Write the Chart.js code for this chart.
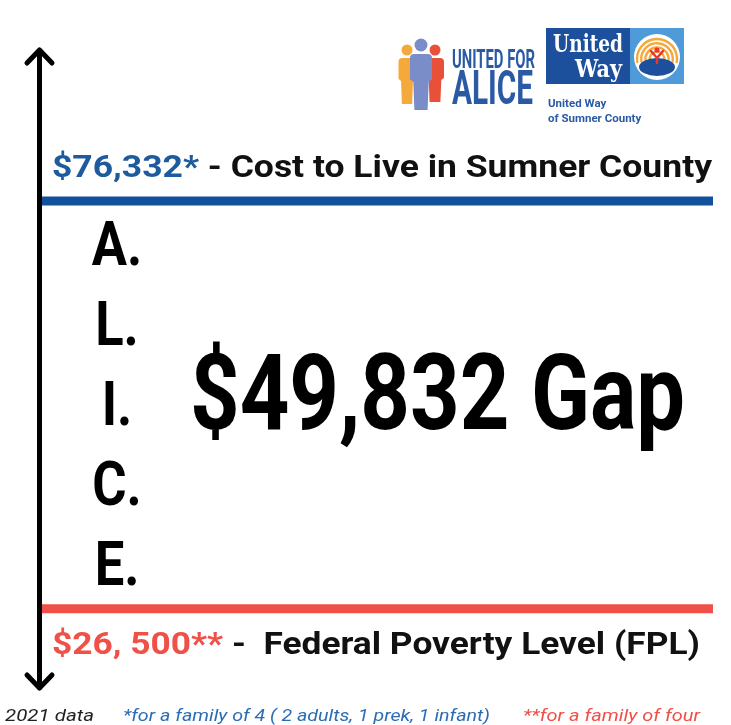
<!DOCTYPE html>
<html lang="en">
<head>
  <meta charset="UTF-8" />
  <title>ALICE - Sumner County</title>
  <script src="https://cdn.jsdelivr.net/npm/chart.js"></script>
  <style>
    body {
      margin: 0;
      background: #fff;
    }
    #wrap {
      width: 731px;
      height: 725px;
    }
  </style>
</head>
<body>
  <div id="wrap"><canvas id="aliceChart" width="731" height="725"></canvas></div>

  <script>
    // income levels (family of four, 2021)
    const levelValues = [76332, 26500];
    const valueLabels = ['$76,332*', '$26, 500**'];
    const levelNames = [' - Cost to Live in Sumner County', ' -  Federal Poverty Level (FPL)'];
    const gapLabel = '$49,832 Gap';
    const acronym = ['A.', 'L.', 'I.', 'C.', 'E.'];
    const footnotes = ['2021 data', '*for a family of 4 ( 2 adults, 1 prek, 1 infant)', '**for a family of four'];

    const BLUE = '#11519b';
    const BLUE_TEXT = '#1d5a9e';
    const RED = '#ef5048';

    // draw text squeezed/stretched to a given width
    function fitText(ctx, parts, x, y, width, font) {
      ctx.font = font;
      const total = parts.reduce((s, p) => s + ctx.measureText(p[0]).width, 0);
      ctx.save();
      ctx.translate(x, y);
      ctx.scale(width / total, 1);
      let cx = 0;
      parts.forEach(p => {
        ctx.fillStyle = p[1];
        ctx.fillText(p[0], cx, 0);
        cx += ctx.measureText(p[0]).width;
      });
      ctx.restore();
    }

    function person(ctx, cx, headY, r, top, bottom, hw, color) {
      ctx.fillStyle = color;
      ctx.beginPath();
      ctx.arc(cx, headY, r, 0, Math.PI * 2);
      ctx.fill();
      ctx.beginPath();
      ctx.moveTo(cx - hw, top + 4);
      ctx.quadraticCurveTo(cx - hw, top, cx - hw + 4, top);
      ctx.lineTo(cx + hw - 4, top);
      ctx.quadraticCurveTo(cx + hw, top, cx + hw, top + 4);
      ctx.lineTo(cx + hw, top + (bottom - top) * 0.45);
      ctx.lineTo(cx + hw * 0.7, top + (bottom - top) * 0.5);
      ctx.lineTo(cx + hw * 0.6, bottom);
      ctx.lineTo(cx - hw * 0.6, bottom);
      ctx.lineTo(cx - hw * 0.7, top + (bottom - top) * 0.5);
      ctx.lineTo(cx - hw, top + (bottom - top) * 0.45);
      ctx.closePath();
      ctx.fill();
    }

    function drawLogos(ctx) {
      // United for ALICE
      person(ctx, 407, 50, 5.5, 58, 104, 8.5, '#f5a93b');
      person(ctx, 435, 50, 5.5, 58, 102, 9, '#e8503a');
      person(ctx, 421, 45, 6.5, 54, 110, 11, '#7b8dc9');
      ctx.textBaseline = 'alphabetic';
      fitText(ctx, [['UNITED FOR', '#2b5aa5']], 452, 68, 83, 'bold 25px Roboto');
      fitText(ctx, [['ALICE', '#2b5aa5']], 452, 104, 81, 'bold 48px Roboto');

      // United Way box
      ctx.fillStyle = '#1c4f9c';
      ctx.fillRect(546, 28, 84, 56);
      ctx.fillStyle = '#4f9ad8';
      ctx.fillRect(630, 28, 54, 56);
      fitText(ctx, [['United', '#fff']], 553, 52, 70, 'bold 24px "DejaVu Serif"');
      fitText(ctx, [['Way', '#fff']], 575, 77, 47, 'bold 24px "DejaVu Serif"');

      // emblem
      const ex = 657, ey = 57;
      ctx.fillStyle = '#fff';
      ctx.beginPath();
      ctx.arc(ex, ey, 23, 0, Math.PI * 2);
      ctx.fill();
      ctx.lineWidth = 2.4;
      ctx.strokeStyle = '#f5a93b';
      for (let i = 0; i < 4; i++) {
        ctx.beginPath();
        ctx.arc(ex, ey + 2, 20 - i * 4.2, Math.PI * 0.95, Math.PI * 2.05);
        ctx.stroke();
      }
      ctx.fillStyle = '#1c4f9c';
      ctx.beginPath();
      ctx.ellipse(ex, ey + 10, 18, 9, 0, 0, Math.PI * 2);
      ctx.fill();
      ctx.strokeStyle = '#e8352e';
      ctx.lineWidth = 2.5;
      ctx.beginPath();
      ctx.moveTo(ex - 6, ey - 6);
      ctx.lineTo(ex, ey + 1);
      ctx.lineTo(ex + 6, ey - 6);
      ctx.moveTo(ex, ey + 1);
      ctx.lineTo(ex, ey + 6);
      ctx.stroke();
      ctx.fillStyle = '#e8352e';
      ctx.beginPath();
      ctx.arc(ex, ey - 7, 2.6, 0, Math.PI * 2);
      ctx.fill();

      ctx.fillStyle = '#2b5aa5';
      ctx.font = 'bold 11.5px Roboto';
      ctx.fillText('United Way', 548, 107);
      ctx.fillText('of Sumner County', 548, 122);
    }

    const infoPlugin = {
      id: 'aliceInfo',
      afterDraw(chart) {
        const ctx = chart.ctx;
        const y = chart.scales.y;
        const topY = y.getPixelForValue(levelValues[0]);
        const botY = y.getPixelForValue(levelValues[1]);
        ctx.save();

        // double arrow
        ctx.strokeStyle = '#000';
        ctx.lineWidth = 5;
        ctx.lineCap = 'round';
        ctx.lineJoin = 'round';
        ctx.beginPath();
        ctx.moveTo(39.5, 50);
        ctx.lineTo(39.5, 688);
        ctx.moveTo(27, 63);
        ctx.lineTo(39.5, 50);
        ctx.lineTo(52, 63);
        ctx.moveTo(27, 675);
        ctx.lineTo(39.5, 688);
        ctx.lineTo(52, 675);
        ctx.stroke();

        ctx.textBaseline = 'alphabetic';
        fitText(ctx, [[valueLabels[0], BLUE_TEXT], [levelNames[0], '#111']], 52, topY - 24, 660, 'bold 31px Roboto');
        fitText(ctx, [[valueLabels[1], RED], [levelNames[1], '#111']], 52, botY + 45, 648, 'bold 32px Roboto');

        // A.L.I.C.E.
        ctx.font = 'bold 61px Roboto';
        ctx.fillStyle = '#000';
        acronym.forEach((t, i) => {
          const w = ctx.measureText(t).width;
          ctx.save();
          ctx.translate(117, topY + 64 + i * 80);
          ctx.scale(0.86, 1);
          ctx.fillText(t, -w / 2, 0);
          ctx.restore();
        });

        fitText(ctx, [[gapLabel, '#000']], 190, 429, 495, 'bold 106px Roboto');

        // footnotes
        fitText(ctx, [[footnotes[0], '#222']], 5, 721, 89, 'italic 17px Roboto');
        fitText(ctx, [[footnotes[1], '#2a6db5']], 123, 721, 367, 'italic 17px Roboto');
        fitText(ctx, [[footnotes[2], RED]], 523, 721, 177, 'italic 17px Roboto');

        drawLogos(ctx);
        ctx.restore();
      }
    };

    new Chart(document.getElementById('aliceChart'), {
      type: 'scatter',
      data: {
        datasets: [
          {
            label: 'Cost to Live',
            data: [{ x: 0, y: levelValues[0] }, { x: 1, y: levelValues[0] }],
            showLine: true,
            borderColor: BLUE,
            borderWidth: 9,
            pointRadius: 0
          },
          {
            label: 'Federal Poverty Level',
            data: [{ x: 0, y: levelValues[1] }, { x: 1, y: levelValues[1] }],
            showLine: true,
            borderColor: RED,
            borderWidth: 9,
            pointRadius: 0
          }
        ]
      },
      options: {
        responsive: false,
        animation: false,
        devicePixelRatio: 1,
        layout: { padding: { left: 41, right: 18, top: 89, bottom: 63 } },
        plugins: {
          legend: { display: false },
          tooltip: { enabled: false }
        },
        scales: {
          x: { type: 'linear', min: 0, max: 1, display: false },
          y: { min: 20000, max: 90000, display: false }
        }
      },
      plugins: [infoPlugin]
    });
  </script>
</body>
</html>
